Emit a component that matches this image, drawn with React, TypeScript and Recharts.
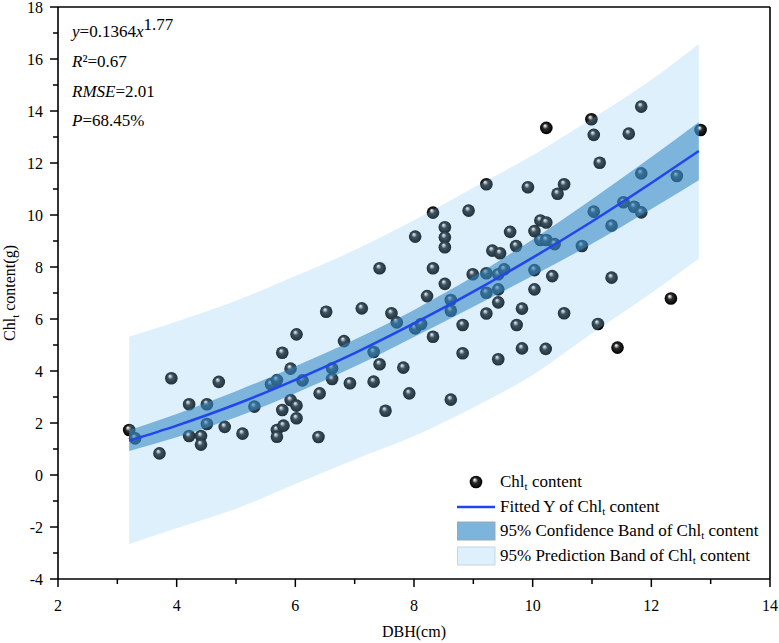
import React from 'react';
import {
  ComposedChart,
  Scatter,
  Area,
  Line,
  XAxis,
  YAxis,
  Legend,
  ReferenceLine,
} from 'recharts';

// observed points: DBH (cm) and Chl_t content (g)
const dbh = [
  3.2, 3.3, 3.71, 3.91, 4.21, 4.51, 4.21, 4.41, 4.41, 4.51, 4.71, 4.81, 5.11, 5.31,
  5.59, 5.69, 5.69, 5.69, 5.78, 5.78, 5.8, 5.92, 5.92, 6.02, 6.02, 6.02, 6.12, 6.41,
  6.39, 6.52, 6.62, 6.62, 6.82, 6.92, 7.12, 7.32, 7.32, 7.42, 7.42, 7.52, 7.62, 7.71,
  7.82, 7.92, 8.02, 8.02, 8.12, 8.22, 8.32, 8.32, 8.32, 8.52, 8.52, 8.52, 8.52, 8.62,
  8.62, 8.62, 8.82, 8.82, 8.92, 8.99, 9.22, 9.22, 9.22, 9.22, 9.32, 9.45, 9.42, 9.42,
  9.42, 9.42, 9.52, 9.62, 9.72, 9.73, 9.82, 9.82, 9.92, 10.03, 10.03, 10.03, 10.13,
  10.13, 10.23, 10.23, 10.23, 10.22, 10.37, 10.33, 10.42, 10.53, 10.53, 10.83, 10.99,
  11.03, 11.03, 11.13, 11.1, 11.33, 11.33, 11.43, 11.53, 11.62, 11.71, 11.83, 11.83,
  11.83, 12.33, 12.43, 12.83,
];
const chl = [
  1.73, 1.41, 0.83, 3.72, 2.72, 2.72, 1.5, 1.5, 1.17, 1.96, 3.58, 1.85, 1.59, 2.63,
  3.49, 3.65, 1.73, 1.47, 4.7, 2.5, 1.9, 4.09, 2.88, 5.41, 2.67, 2.18, 3.64, 3.14,
  1.46, 6.28, 4.1, 3.69, 5.15, 3.53, 6.41, 4.73, 3.59, 4.26, 7.95, 2.47, 6.22, 5.87,
  4.13, 3.14, 5.64, 9.17, 5.81, 6.88, 10.09, 7.95, 5.32, 9.53, 9.14, 8.76, 7.35, 6.73,
  6.32, 2.9, 5.77, 4.68, 10.17, 7.72, 11.18, 7.76, 7.01, 6.21, 8.63, 8.53, 7.72, 7.14,
  6.64, 4.45, 7.91, 9.35, 8.81, 5.77, 6.4, 4.87, 11.07, 9.38, 7.88, 7.14, 9.79,
  9.04, 9.71, 9.04, 13.35, 4.85, 8.88, 7.65, 10.82, 11.18, 6.22, 8.81, 13.68,
  13.08, 10.13, 12.01, 5.81, 9.59, 7.59, 4.9, 10.49, 13.13, 10.32, 14.17, 11.6,
  10.1, 6.79, 11.5, 13.27,
];

// fitted curve and bands
const fitX = [3.2, 4, 5, 6, 7, 8, 9, 10, 11, 12, 12.8];
const fitY = [1.32, 1.9, 2.72, 3.66, 4.69, 5.83, 7.05, 8.36, 9.75, 11.23, 12.46];
const confLow = [0.92, 1.45, 2.22, 3.14, 4.17, 5.31, 6.47, 7.66, 8.89, 10.23, 11.34];
const confHigh = [1.72, 2.35, 3.22, 4.18, 5.21, 6.35, 7.63, 9.06, 10.61, 12.23, 13.58];
const predLow = [-2.65, -2.05, -1.3, -0.35, 0.6, 1.5, 2.6, 3.85, 5.45, 7.0, 8.33];
const predHigh = [5.32, 5.9, 6.7, 7.65, 8.65, 9.8, 11.05, 12.3, 13.7, 15.2, 16.58];

const xTicks = [2, 3, 4, 5, 6, 7, 8, 9, 10, 11, 12, 13, 14];
const yTicks = [-4, -3, -2, -1, 0, 1, 2, 3, 4, 5, 6, 7, 8, 9, 10, 11, 12, 13, 14, 15, 16, 17, 18];

const points = dbh.map((x, i) => ({ x, y: chl[i] }));
const bandData = fitX.map((x, i) => ({
  x,
  fit: fitY[i],
  conf: [confLow[i], confHigh[i]],
  pred: [predLow[i], predHigh[i]],
}));

const FONT = "'Liberation Serif', Tinos, 'Times New Roman', 'DejaVu Serif', serif";
const LINE_BLUE = '#1f46f0';
const CONF_FILL = '#3286c3';
const PRED_FILL = '#7cc4f4';
const txt = { fontFamily: FONT };

const XTick = (props: any) => {
  const { x, y, payload } = props;
  const major = payload.value % 2 === 0;
  return (
    <g>
      <line x1={x} x2={x} y1={y} y2={y + (major ? 8 : 5)} stroke="#000" strokeWidth={1.5} />
      {major && (
        <text x={x} y={y + 32} textAnchor="middle" style={txt} fontSize={16} fill="#000">
          {payload.value}
        </text>
      )}
    </g>
  );
};

const YTick = (props: any) => {
  const { x, y, payload } = props;
  const major = payload.value % 2 === 0;
  return (
    <g>
      <line x1={x} x2={x - (major ? 8 : 5)} y1={y} y2={y} stroke="#000" strokeWidth={1.5} />
      {major && (
        <text x={x - 15} y={y + 5.5} textAnchor="end" style={txt} fontSize={16} fill="#000">
          {payload.value}
        </text>
      )}
    </g>
  );
};

const Ball = (props: any) => {
  const { cx, cy } = props;
  if (cx == null || cy == null) return null;
  return <circle cx={cx} cy={cy} r={6.3} fill="url(#ball)" />;
};

const Sub = ({ children }: { children: React.ReactNode }) => (
  <sub style={{ fontSize: 11, verticalAlign: -3, lineHeight: 0 }}>{children}</sub>
);

const renderLegend = () => {
  const rows = [
    {
      key: 'pts',
      icon: <circle cx={21} cy={12} r={6.3} fill="url(#ballLegend)" />,
      label: <>Chl<Sub>t</Sub> content</>,
    },
    {
      key: 'fit',
      icon: <line x1={2} x2={40} y1={12} y2={12} stroke={LINE_BLUE} strokeWidth={2.5} />,
      label: <>Fitted Y of Chl<Sub>t</Sub> content</>,
    },
    {
      key: 'conf',
      icon: <rect x={2.5} y={3} width={37.5} height={18} fill="#7cb4dc" stroke="#9aa8b4" strokeWidth={1} />,
      label: <>95% Confidence Band of Chl<Sub>t</Sub> content</>,
    },
    {
      key: 'pred',
      icon: <rect x={2.5} y={3} width={37.5} height={18} fill="#ddf0fc" stroke="#c9d6df" strokeWidth={1} />,
      label: <>95% Prediction Band of Chl<Sub>t</Sub> content</>,
    },
  ];
  return (
    <div style={{ fontFamily: FONT, fontSize: 17, color: '#000' }}>
      <svg width={0} height={0} style={{ position: 'absolute' }}>
        <defs>
          <radialGradient id="ballLegend" cx="0.5" cy="0.5" r="0.5" fx="0.38" fy="0.3">
            <stop offset="0%" stopColor="#ffffff" />
            <stop offset="18%" stopColor="#b9b9b9" />
            <stop offset="42%" stopColor="#2c2c2c" />
            <stop offset="100%" stopColor="#000000" />
          </radialGradient>
        </defs>
      </svg>
      {rows.map((r) => (
        <div key={r.key} style={{ display: 'flex', alignItems: 'center', height: 24.5 }}>
          <svg width={42} height={24} style={{ flex: '0 0 auto' }}>
            {r.icon}
          </svg>
          <span style={{ marginLeft: 3, whiteSpace: 'nowrap', lineHeight: '24px' }}>{r.label}</span>
        </div>
      ))}
    </div>
  );
};

export default function App() {
  return (
    <div
      style={{
        position: 'absolute',
        left: 0,
        top: 0,
        width: 779,
        height: 643,
        background: '#fff',
        fontFamily: FONT,
      }}
    >
      <ComposedChart
        width={779}
        height={643}
        data={bandData}
        margin={{ top: 7, right: 9, bottom: 24, left: 8 }}
      >
        <defs>
          <radialGradient id="ball" cx="0.5" cy="0.5" r="0.5" fx="0.38" fy="0.3">
            <stop offset="0%" stopColor="#ffffff" />
            <stop offset="18%" stopColor="#b9b9b9" />
            <stop offset="42%" stopColor="#2c2c2c" />
            <stop offset="100%" stopColor="#000000" />
          </radialGradient>
        </defs>
        <XAxis
          dataKey="x"
          type="number"
          domain={[2, 14]}
          ticks={xTicks}
          interval={0}
          height={40}
          tickSize={0}
          tickMargin={0}
          tickLine={false}
          tick={<XTick />}
          axisLine={{ stroke: '#000', strokeWidth: 1.6 }}
          allowDataOverflow
        />
        <YAxis
          type="number"
          domain={[-4, 18]}
          ticks={yTicks}
          interval={0}
          width={50}
          tickSize={0}
          tickMargin={0}
          tickLine={false}
          tick={<YTick />}
          axisLine={{ stroke: '#000', strokeWidth: 1.6 }}
          allowDataOverflow
        />
        <ReferenceLine y={18} stroke="#000" strokeWidth={1.6} />
        <ReferenceLine x={14} stroke="#000" strokeWidth={1.6} />
        <Scatter
          data={points}
          dataKey="y"
          shape={<Ball />}
          isAnimationActive={false}
          zIndex={500}
          legendType="none"
        />
        <Area
          type="monotone"
          dataKey="pred"
          stroke="none"
          fill={PRED_FILL}
          fillOpacity={0.25}
          isAnimationActive={false}
          zIndex={700}
          activeDot={false}
        />
        <Area
          type="monotone"
          dataKey="conf"
          stroke="none"
          fill={CONF_FILL}
          fillOpacity={0.56}
          isAnimationActive={false}
          zIndex={710}
          activeDot={false}
        />
        <Line
          type="monotone"
          dataKey="fit"
          stroke={LINE_BLUE}
          strokeWidth={2.5}
          dot={false}
          activeDot={false}
          isAnimationActive={false}
          zIndex={720}
        />
        <Legend
          layout="vertical"
          align="center"
          verticalAlign="middle"
          content={renderLegend}
          wrapperStyle={{ left: 455, top: 470, width: 320, height: 100 }}
        />
      </ComposedChart>
      <svg
        width={779}
        height={643}
        style={{ position: 'absolute', left: 0, top: 0, pointerEvents: 'none', fontFamily: FONT }}
      >
        <text x={72} y={37} fontSize={17} style={txt}>
          <tspan fontStyle="italic">y</tspan>=0.1364<tspan fontStyle="italic">x</tspan>
          <tspan dy={-7}>1.77</tspan>
        </text>
        <text x={72} y={67} fontSize={17} style={txt}>
          <tspan fontStyle="italic">R</tspan>²=0.67
        </text>
        <text x={72} y={97} fontSize={17} style={txt}>
          <tspan fontStyle="italic">RMSE</tspan>=2.01
        </text>
        <text x={72} y={126} fontSize={17} style={txt}>
          <tspan fontStyle="italic">P</tspan>=68.45%
        </text>
        <text x={414} y={637} fontSize={16} textAnchor="middle" style={txt}>
          DBH(cm)
        </text>
        <text
          transform="translate(15,293) rotate(-90)"
          x={0}
          y={0}
          fontSize={16}
          textAnchor="middle"
          style={txt}
        >
          Chl<tspan dy={4} fontSize={11}>t</tspan>
          <tspan dy={-4}> content(g)</tspan>
        </text>
      </svg>
    </div>
  );
}
